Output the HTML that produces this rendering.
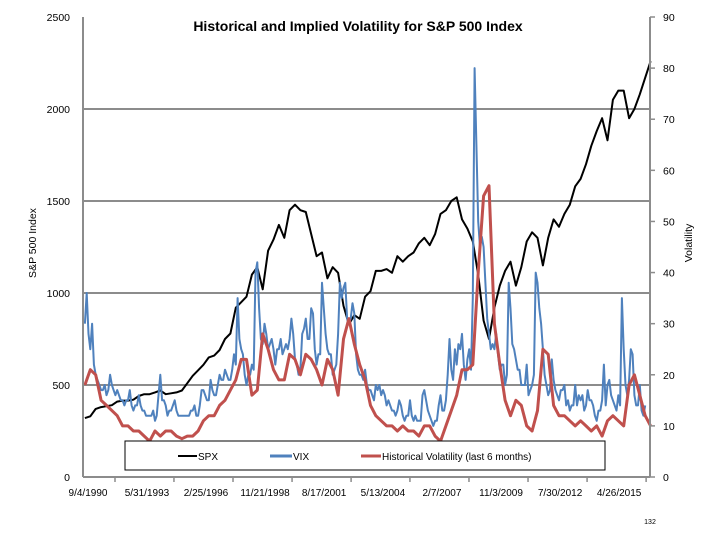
<!DOCTYPE html>
<html><head><meta charset="utf-8"><style>
body{margin:0;background:#fff;}
svg{display:block;font-family:"Liberation Sans",sans-serif;}
</style></head><body>
<svg id="chart" width="720" height="540">
<text x="358" y="31" text-anchor="middle" font-size="14" font-weight="bold" fill="#000">Historical and Implied Volatility for S&amp;P 500 Index</text>
<text transform="translate(36,243) rotate(-90)" text-anchor="middle" font-size="10.5">S&amp;P 500 Index</text>
<text transform="translate(692,243) rotate(-90)" text-anchor="middle" font-size="10.5">Volatility</text>
<text x="650" y="524" text-anchor="middle" font-size="7">132</text>
<g id="grid"></g><g id="series"></g><g id="axes"></g>
<g>
<rect x="125" y="441" width="480" height="29" fill="#fff" stroke="#000" stroke-width="1"/>
<line x1="178" y1="456" x2="197" y2="456" stroke="#000" stroke-width="2"/>
<text x="198" y="460" font-size="10">SPX</text>
<line x1="270" y1="456" x2="292" y2="456" stroke="#4f81bd" stroke-width="3"/>
<text x="293" y="460" font-size="10">VIX</text>
<line x1="361" y1="456" x2="381" y2="456" stroke="#c0504d" stroke-width="3"/>
<text x="382" y="460" font-size="10">Historical Volatility (last 6 months)</text>
</g>
</svg>
<script>
const leftTicks=[0,500,1000,1500,2000,2500];
const rightTicks=[0,10,20,30,40,50,60,70,80,90];
const dateLabels=["9/4/1990","5/31/1993","2/25/1996","11/21/1998","8/17/2001","5/13/2004","2/7/2007","11/3/2009","7/30/2012","4/26/2015"];
const dateLabelYears=[1990.674,1993.41,1996.15,1998.89,2001.63,2004.36,2007.10,2009.84,2012.58,2015.32];
const spxStart=1990.67, spxStep=0.25;
const spx=[320,330,370,380,385,390,410,415,415,420,440,450,450,460,470,450,455,460,470,510,550,580,610,650,660,690,750,780,920,950,980,1100,1140,1020,1230,1290,1370,1300,1450,1480,1450,1440,1320,1200,1220,1080,1140,1110,930,830,880,860,980,1010,1120,1120,1130,1110,1200,1170,1200,1220,1270,1300,1260,1320,1430,1450,1500,1520,1400,1350,1280,1100,850,750,920,1040,1120,1170,1040,1140,1280,1330,1300,1150,1300,1400,1360,1430,1480,1580,1620,1700,1800,1880,1950,1830,2050,2100,2100,1950,2000,2080,2170,2260];
const hvStart=1990.67, hvStep=0.25;
const hv=[18,21,20,15,14,13,12,10,10,9,9,8,7,9,8,9,9,8,7.5,8,8,9,11,12,12,14,15,17,19,23,23,16,17,28,25,21,19,19,24,23,20,24,23,21,18,23,21,16,27,31,26,22,19,14,12,11,10,10,9,10,9,9,8,10,10,8,7,10,13,16,21,21,22,40,55,57,30,22,15,12,15,14,10,9,13,25,24,14,12,12,11,10,11,10,9,10,8,11,12,11,10,18,20,16,12,10];
const vixStart=1990.67, vixStep=1/12;
const vix=[30,36,28,25,
30,22,20,19,18,17,17,18,16,17,20,18,
17,16,17,16,15,15,14,15,15,17,14,13,
14,14,16,14,13,13,12,12,12,12,13,11,
12,16,20,15,15,14,12,13,13,14,15,13,
12,12,12,12,12,12,12,13,13,14,12,12,
14,17,17,16,15,15,19,17,16,16,18,20,
19,19,21,20,19,19,21,24,22,35,27,25,
24,20,18,20,20,22,21,40,42,33,27,26,
30,28,25,26,27,25,22,25,25,27,24,25,
26,25,27,31,28,23,22,20,21,28,29,31,
27,27,33,32,25,22,24,24,38,33,28,25,
24,24,20,21,22,28,38,35,37,38,31,30,
31,34,32,24,21,20,20,19,21,18,17,17,
16,15,18,17,18,16,17,16,14,15,14,13,
13,12,13,15,14,12,11,12,12,15,12,11,
12,11,11,11,16,17,15,13,12,11,10,11,
11,14,16,13,13,15,20,27,21,19,25,22,
26,25,28,22,19,23,25,21,35,80,65,50,
45,47,45,38,31,28,25,26,25,28,24,21,
22,22,18,20,38,33,26,25,23,21,21,18,
18,18,22,16,17,18,20,40,38,33,30,25,
20,18,16,17,23,19,17,16,15,17,17,18,
14,15,13,14,14,18,14,16,15,16,13,14,
17,15,15,14,12,11,13,13,15,22,14,18,
19,16,15,14,13,16,14,35,25,18,16,19,
25,24,16,14,14,18,13,12,14];
const NS="http://www.w3.org/2000/svg";
const X0=83,X1=650,YT=17,YB=477;
function xs(yr){return 85+(yr-1990.674)*21.55;}
function yl(v){return YB-(v/2500)*(YB-YT);}
function yr(v){return YB-(v/90)*(YB-YT);}
function mk(tag,attrs,parent){const e=document.createElementNS(NS,tag);for(const k in attrs)e.setAttribute(k,attrs[k]);parent.appendChild(e);return e;}
const grid=document.getElementById('grid'),axes=document.getElementById('axes'),series=document.getElementById('series');
leftTicks.forEach(v=>{
  if(v>0&&v<2500){const g=mk('line',{x1:X0,x2:X1,y1:yl(v),y2:yl(v),stroke:'#8c8c8c','stroke-width':2},grid);
  
  }
  const t=mk('text',{x:70,y:yl(v)+4,'text-anchor':'end','font-size':10.5},axes);t.textContent=v;
  
  
});
rightTicks.forEach(v=>{
  mk('line',{x1:X1,x2:X1+5,y1:yr(v),y2:yr(v),stroke:'#8c8c8c','stroke-width':1.5},axes);
  const t=mk('text',{x:663,y:yr(v)+4,'font-size':10.5},axes);t.textContent=v;
  
  
});
const la=mk('line',{x1:X0,x2:X0,y1:YT,y2:YB,stroke:'#8c8c8c','stroke-width':2},axes);


const ra=mk('line',{x1:X1,x2:X1,y1:YT,y2:YB,stroke:'#8c8c8c','stroke-width':2},axes);


const xa=mk('line',{x1:X0,x2:X1,y1:YB,y2:YB,stroke:'#8c8c8c','stroke-width':2},axes);


dateLabels.forEach((d,i)=>{
  const x=xs(dateLabelYears[i]);
  mk('line',{x1:x+30,x2:x+30,y1:YB,y2:YB+5,stroke:'#8c8c8c','stroke-width':1.5},axes);
  const t=mk('text',{x:x+3,y:496,'text-anchor':'middle','font-size':10},axes);t.textContent=d;
  
  
});
function line(arr,start,step,yf,color,w,name){
  const pts=arr.map((v,i)=>xs(start+i*step).toFixed(1)+','+yf(v).toFixed(1)).join(' ');
  const p=mk('polyline',{points:pts,fill:'none',stroke:color,'stroke-width':w,'stroke-linejoin':'round'},series);
  
  
}
line(spx,spxStart,spxStep,yl,'#000',2,'spx-line');
line(vix,vixStart,vixStep,yr,'#4f81bd',2,'vix-line');
line(hv,hvStart,hvStep,yr,'#c0504d',3,'hv-line');
</script>
</body></html>
